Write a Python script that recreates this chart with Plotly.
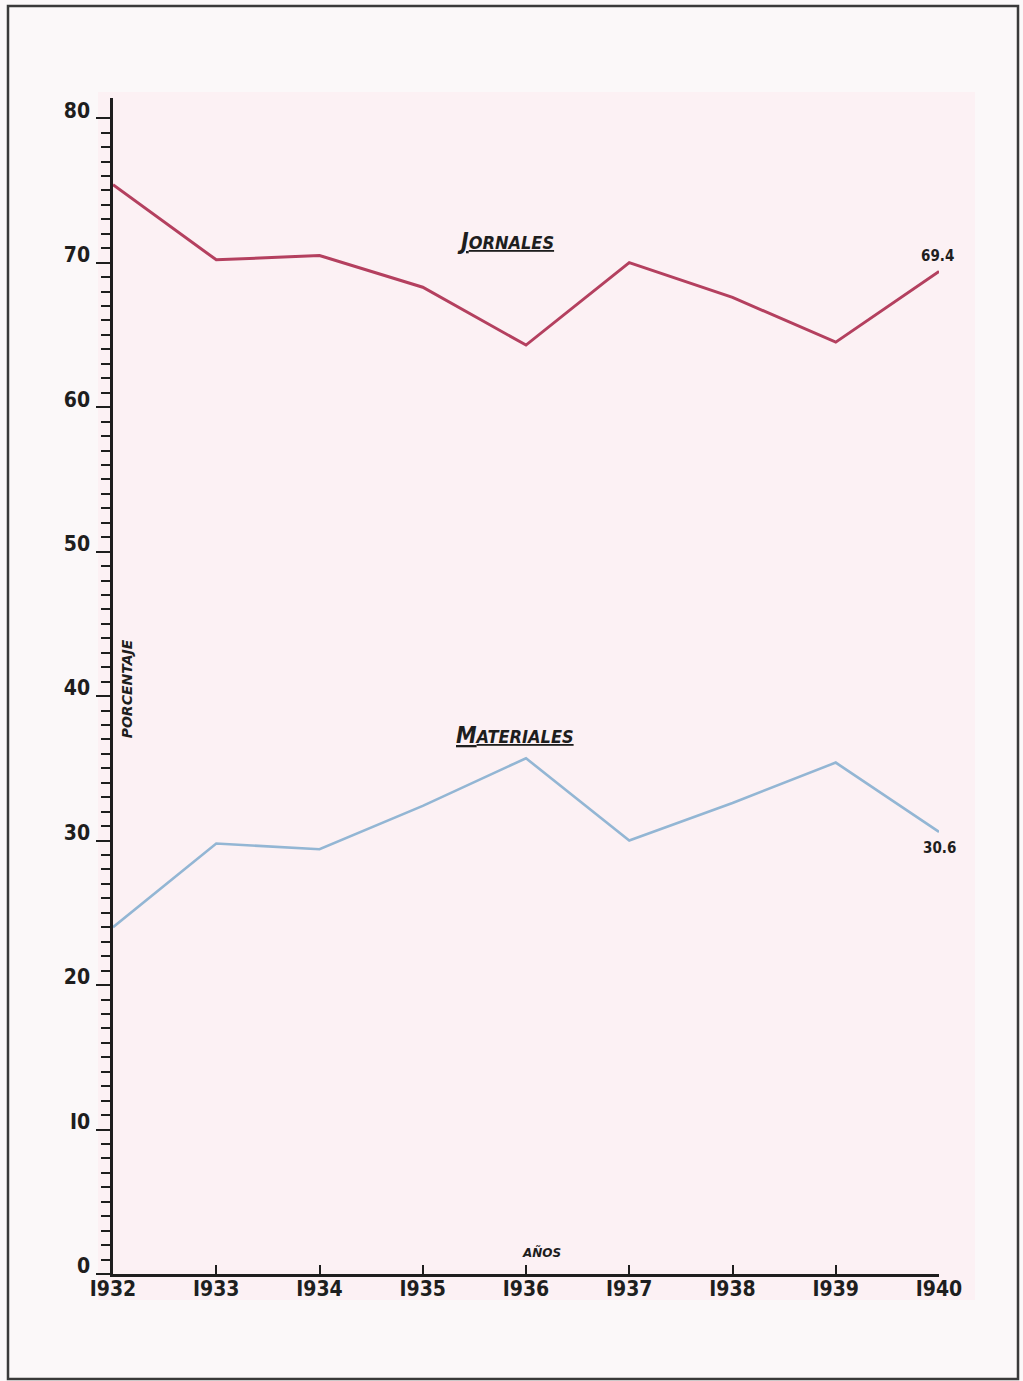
import plotly.graph_objects as go

years = [1932, 1933, 1934, 1935, 1936, 1937, 1938, 1939, 1940]
jornales = [75.4, 70.2, 70.5, 68.3, 64.3, 70.0, 67.6, 64.5, 69.4]
materiales = [24.0, 29.8, 29.4, 32.4, 35.7, 30.0, 32.6, 35.4, 30.6]
y_ticks = [0, 10, 20, 30, 40, 50, 60, 70, 80]
y_ticklabels = ["0", "I0", "20", "30", "40", "50", "60", "70", "80"]
x_ticklabels = ["I932", "I933", "I934", "I935", "I936", "I937", "I938", "I939", "I940"]

FONT = "DejaVu Sans Condensed, Liberation Sans Narrow, DejaVu Sans, sans-serif"
INK = "#1e1e1e"
RED = "#b4405f"
BLUE = "#93b6d4"

def cond(t):
    return "<span style='font-stretch:condensed'>" + t + "</span>"

fig = go.Figure()
fig.add_trace(go.Scatter(x=years, y=jornales, mode="lines",
                         line=dict(color=RED, width=3), hoverinfo="skip", showlegend=False))
fig.add_trace(go.Scatter(x=years, y=materiales, mode="lines",
                         line=dict(color=BLUE, width=2.6), hoverinfo="skip", showlegend=False))

L, R, T, B = 113, 1023 - 939, 98, 1381 - 1274
W, H = 1023, 1381
pw, ph = W - L - R, H - T - B

def px(xp):
    return (xp - L) / pw

def py(yp):
    return (H - B - yp) / ph

tickfont = dict(size=21, family=FONT, color=INK, weight="bold")

fig.update_layout(
    width=W, height=H,
    margin=dict(l=L, r=R, t=T, b=B),
    paper_bgcolor="#fbf8f9",
    plot_bgcolor="rgba(0,0,0,0)",
    font=dict(family=FONT, color=INK),
    xaxis=dict(
        range=[1932, 1940], tickvals=years, ticktext=[cond(t) for t in x_ticklabels],
        showgrid=False, zeroline=False, showline=True, linecolor=INK, linewidth=2.5,
        ticks="inside", ticklen=9, tickwidth=2, tickcolor=INK,
        tickfont=tickfont, ticklabelstandoff=-6,
    ),
    yaxis=dict(
        range=[0, 81.4], tickvals=y_ticks, ticktext=[cond(t) for t in y_ticklabels],
        showgrid=False, zeroline=False, showline=True, linecolor=INK, linewidth=2.5,
        ticks="outside", ticklen=14, tickwidth=2, tickcolor=INK,
        tickfont=tickfont, ticklabelshift=-8, ticklabelstandoff=2,
        minor=dict(tickmode="array", tickvals=list(range(0, 81)),
                   ticks="outside", ticklen=9, tickwidth=1.8, tickcolor=INK, showgrid=False),
    ),
    shapes=[
        dict(type="rect", xref="paper", yref="paper", layer="below",
             x0=px(98), x1=px(975), y0=py(1300), y1=py(92),
             fillcolor="#fcf1f4", line=dict(width=0)),
        dict(type="rect", xref="paper", yref="paper", layer="above",
             x0=px(8), x1=px(1018), y0=py(1379), y1=py(6),
             fillcolor="rgba(0,0,0,0)", line=dict(color="#3a3a3a", width=2.5)),
    ],
    annotations=[
        dict(x=1935.80, y=71.5, xref="x", yref="y", showarrow=False,
             text=cond("<b><i><u><span style='font-size:23px'>J</span>ORNALES</u></i></b>"),
             font=dict(size=18, family=FONT, color=INK)),
        dict(x=1935.89, y=37.3, xref="x", yref="y", showarrow=False,
             text=cond("<b><i><u><span style='font-size:23px'>M</span>ATERIALES</u></i></b>"),
             font=dict(size=18, family=FONT, color=INK)),
        dict(x=years[-1], y=jornales[-1], xref="x", yref="y", showarrow=False,
             text=cond("<b>" + str(jornales[-1]) + "</b>"), yanchor="bottom", yshift=4, xshift=-2,
             font=dict(size=15, family=FONT, color=INK)),
        dict(x=years[-1], y=materiales[-1], xref="x", yref="y", showarrow=False,
             text=cond("<b>" + str(materiales[-1]) + "</b>"), yanchor="top", yshift=-5, xshift=0,
             font=dict(size=15, family=FONT, color=INK)),
        dict(x=1932.13, y=40.5, xref="x", yref="y", showarrow=False, textangle=-90,
             text="<b><i>PORCENTAJE</i></b>",
             font=dict(size=14, family="DejaVu Sans, sans-serif", color=INK)),
        dict(x=1936.15, y=1.5, xref="x", yref="y", showarrow=False,
             text="<b><i>AÑOS</i></b>",
             font=dict(size=12, family="DejaVu Sans, sans-serif", color=INK)),
    ],
)

fig.write_html("out.html", config={"displayModeBar": False},
               post_script="document.body.style.margin='0';document.body.style.overflow='hidden';")
